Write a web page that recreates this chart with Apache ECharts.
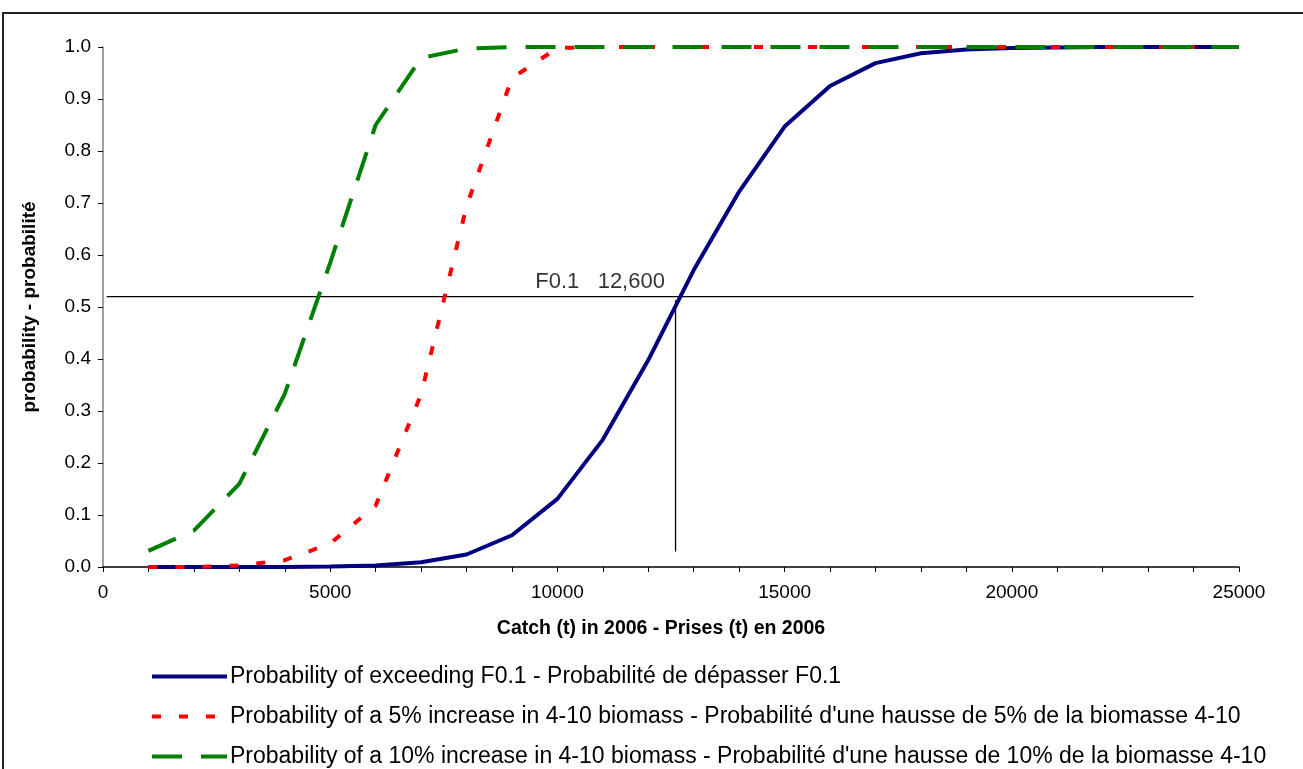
<!DOCTYPE html>
<html>
<head>
<meta charset="utf-8">
<script src="https://cdn.jsdelivr.net/npm/echarts@6/dist/echarts.min.js"></script>
<style>html,body{margin:0;padding:0;background:#fff;}#c{width:1303px;height:769px;}</style>
</head>
<body>
<div id="c"></div>
<script>
const catches = [1000,2000,3000,4000,5000,6000,7000,8000,9000,10000,11000,12000,13000,14000,15000,16000,17000,18000,19000,20000,21000,22000,23000,24000,25000];
const probF01 = [0,0,0,0,0.001,0.003,0.009,0.024,0.061,0.131,0.245,0.398,0.571,0.722,0.847,0.925,0.969,0.988,0.995,0.998,0.999,1,1,1,1];
const prob5pct = [0,0,0.003,0.013,0.045,0.118,0.332,0.694,0.94,0.998,1,1,1,1,1,1,1,1,1,1,1,1,1,1,1];
const prob10pct = [0.031,0.07,0.16,0.333,0.585,0.85,0.979,0.997,1,1,1,1,1,1,1,1,1,1,1,1,1,1,1,1,1];
const names = [
  "Probability of exceeding F0.1 - Probabilité de dépasser F0.1",
  "Probability of a 5% increase in 4-10 biomass - Probabilité d'une hausse de 5% de la biomasse 4-10",
  "Probability of a 10% increase in 4-10 biomass - Probabilité d'une hausse de 10% de la biomasse 4-10"
];
const refHorizontal = [[80,0.52],[24000,0.52]];
const refVertical = [[12600,0.03],[12600,0.513]];
const refLabelPoint = [[10940,0.52]];
const refLabel = "F0.1   12,600";

const zip = (xs, ys) => xs.map((x,i)=>[x, ys[i]]);
const font = "'Liberation Sans', Arial, sans-serif";
const colors = ['#000080','#ff0000','#008000'];
const dashes = ['solid',[9,18],[30,19]];
const legendTops = [665,705,745];

const chart = echarts.init(document.getElementById('c'), null, {renderer:'canvas'});
chart.setOption({
  animation:false,
  backgroundColor:'#fff',
  textStyle:{fontFamily:font},
  graphic:[{type:'rect', shape:{x:3, y:13, width:1400, height:800}, style:{fill:'none', stroke:'#222', lineWidth:2}, z:-1}],
  grid:{left:103, right:64, top:47, bottom:202},
  xAxis:{
    type:'value', min:0, max:25000, interval:5000,
    name:'Catch (t) in 2006 - Prises (t) en 2006', nameLocation:'middle', nameGap:52,
    nameTextStyle:{fontFamily:font, fontSize:19.5, fontWeight:'bold', color:'#000', padding:[0,20,0,0]},
    axisLine:{show:true, onZero:false, lineStyle:{color:'#000', width:1.5}},
    axisTick:{show:true, length:5, lineStyle:{color:'#000'}},
    minorTick:{show:true, splitNumber:5, length:5, lineStyle:{color:'#000'}},
    splitLine:{show:false},
    axisLabel:{fontFamily:font, fontSize:19, color:'#000', margin:16, formatter:v=>String(v)}
  },
  yAxis:{
    type:'value', min:0, max:1, interval:0.1,
    name:'probability - probabilité', nameLocation:'middle', nameGap:64,
    nameTextStyle:{fontFamily:font, fontSize:19, fontWeight:'bold', color:'#000'},
    axisLine:{show:true, lineStyle:{color:'#808080', width:1.5}},
    axisTick:{show:true, length:5, lineStyle:{color:'#000'}},
    splitLine:{show:false},
    axisLabel:{fontFamily:font, fontSize:19, color:'#000', margin:12, formatter:v=>v.toFixed(1)}
  },
  legend: names.map((n,i)=>({
    orient:'vertical', left:150, top:legendTops[i], padding:0, itemWidth:75, itemHeight:20, itemGap:0,
    textStyle:{fontFamily:font, fontSize:23, color:'#000', padding:[0,0,0,-2]},
    itemStyle:{opacity:0},
    data:[{name:n, lineStyle:{color:colors[i], width:4, type:dashes[i]}}]
  })),
  series:[
    {name:names[0], type:'line', data:zip(catches, probF01), symbol:'none', lineStyle:{color:colors[0], width:4, type:dashes[0]}, itemStyle:{color:colors[0]}},
    {name:names[1], type:'line', data:zip(catches, prob5pct), symbol:'none', lineStyle:{color:colors[1], width:4, type:dashes[1]}, itemStyle:{color:colors[1]}},
    {name:names[2], type:'line', data:zip(catches, prob10pct), symbol:'none', lineStyle:{color:colors[2], width:4, type:dashes[2]}, itemStyle:{color:colors[2]}},
    {type:'line', data:refHorizontal, symbol:'none', lineStyle:{color:'#000', width:1.3}, silent:true, z:1},
    {type:'line', data:refVertical, symbol:'none', lineStyle:{color:'#000', width:1.3}, silent:true, z:1},
    {type:'scatter', data:refLabelPoint, symbolSize:0, silent:true,
     label:{show:true, position:'top', distance:4, formatter:refLabel, fontFamily:font, fontSize:22, color:'#000'}}
  ]
});
</script>
</body>
</html>
